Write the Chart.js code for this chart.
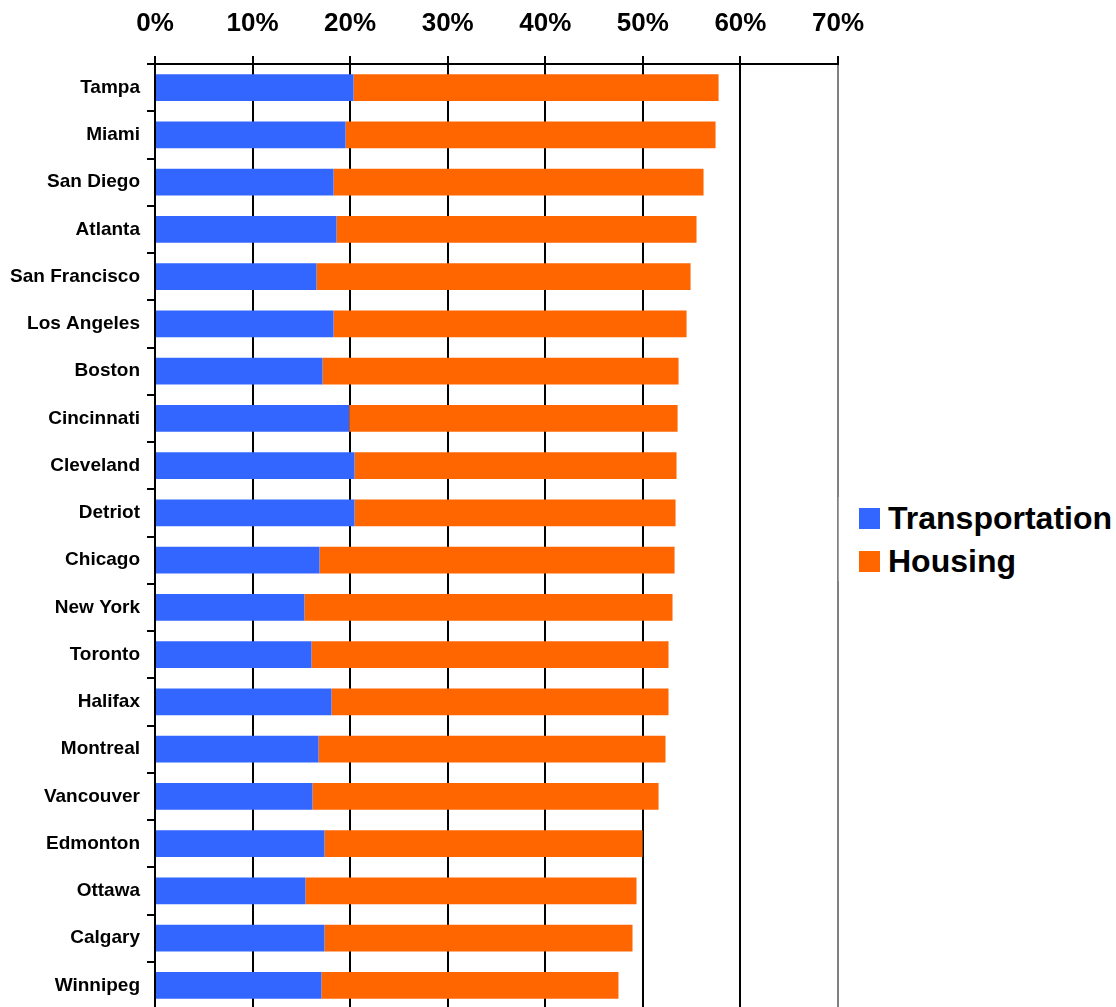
<!DOCTYPE html>
<html>
<head>
<meta charset="utf-8">
<script src="https://cdn.jsdelivr.net/npm/chart.js@4/dist/chart.umd.min.js"></script>
<style>
  html, body { margin: 0; padding: 0; background: #fff; overflow: hidden; }
  #wrap { position: relative; width: 1116px; height: 1007px; overflow: hidden; }
  #legend {
    position: absolute; left: 838px; top: 497px; width: 278px; height: 84px;
    background: #fff; border-left: 1px solid #a0a0a0;
    font-family: 'Liberation Sans', Arial, sans-serif; font-weight: bold; font-size: 32px; color: #000;
  }
  .item { position: absolute; left: 20px; height: 22px; white-space: nowrap; }
  .swatch { position: absolute; left: 0; top: 0; width: 21px; height: 21px; }
  .label { position: absolute; left: 29px; top: -8px; line-height: 36px; }
</style>
</head>
<body>
<div id="wrap">
  <canvas id="costChart" width="1116" height="1009"></canvas>
  <div id="legend"></div>
</div>
<script>
// share of household income, percent
const cities = ['Tampa', 'Miami', 'San Diego', 'Atlanta', 'San Francisco', 'Los Angeles', 'Boston',
  'Cincinnati', 'Cleveland', 'Detriot', 'Chicago', 'New York', 'Toronto', 'Halifax', 'Montreal',
  'Vancouver', 'Edmonton', 'Ottawa', 'Calgary', 'Winnipeg'];
const transportation = [20.35, 19.53, 18.3, 18.6, 16.55, 18.3, 17.17, 19.9, 20.45, 20.45,
  16.86, 15.31, 16.04, 18.09, 16.76, 16.14, 17.37, 15.42, 17.37, 17.06];
const housing = [37.41, 37.92, 37.92, 36.9, 38.34, 36.18, 36.49, 33.66, 33.0, 32.9,
  36.39, 37.73, 36.59, 34.54, 35.56, 35.47, 32.6, 33.93, 31.57, 30.44];
const xTicks = [0, 10, 20, 30, 40, 50, 60, 70];

const series = [
  { label: 'Transportation', data: transportation, color: '#3366FF' },
  { label: 'Housing', data: housing, color: '#FF6600' }
];

const fontFamily = "'Liberation Sans', Arial, sans-serif";

new Chart(document.getElementById('costChart'), {
  type: 'bar',
  data: {
    labels: cities,
    datasets: series.map(s => ({
      label: s.label,
      data: s.data,
      backgroundColor: s.color,
      borderWidth: 0,
      categoryPercentage: 1,
      barPercentage: 0.57
    }))
  },
  options: {
    indexAxis: 'y',
    responsive: false,
    animation: false,
    devicePixelRatio: 1,
    layout: { padding: { left: 0, right: 278, top: 0, bottom: 0 } },
    plugins: {
      legend: { display: false },
      tooltip: { enabled: false }
    },
    scales: {
      x: {
        position: 'top',
        stacked: true,
        min: xTicks[0],
        max: xTicks[xTicks.length - 1],
        afterBuildTicks(scale) { scale.ticks = xTicks.map(v => ({ value: v })); },
        afterFit(scale) { scale.height = 64; },
        ticks: {
          color: '#000',
          padding: 17,
          font: { family: fontFamily, size: 26, weight: 'bold' },
          callback: v => v + '%'
        },
        grid: {
          color: ctx => (ctx.tick && ctx.tick.value === 70) ? '#808080' : '#000',
          tickColor: '#000',
          lineWidth: 2,
          tickLength: 8
        },
        border: { color: '#000', width: 2 }
      },
      y: {
        stacked: true,
        // keep the plot running to the bottom edge
        afterFit(scale) {
          scale.width = 155;
          scale.paddingTop = 0;
          scale.paddingBottom = 0;
        },
        ticks: {
          color: '#000',
          padding: 7,
          font: { family: fontFamily, size: 19, weight: 'bold' }
        },
        grid: {
          drawOnChartArea: false,
          offset: true,
          color: '#000',
          lineWidth: 2,
          tickLength: 8
        },
        border: { color: '#000', width: 2 }
      }
    }
  }
});

// legend on the right
const legend = document.getElementById('legend');
series.forEach((s, i) => {
  const item = document.createElement('div');
  item.className = 'item';
  item.style.top = (11 + i * 43) + 'px';
  item.innerHTML = '<span class="swatch" style="background:' + s.color + '"></span>' +
    '<span class="label">' + s.label + '</span>';
  legend.appendChild(item);
});
</script>
</body>
</html>
